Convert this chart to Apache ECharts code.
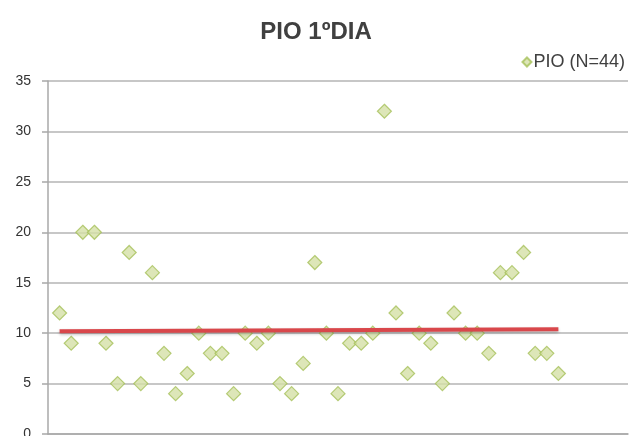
<!DOCTYPE html>
<html>
<head>
<meta charset="utf-8">
<script src="https://cdn.jsdelivr.net/npm/echarts@6/dist/echarts.min.js"></script>
<style>
  html, body { margin: 0; padding: 0; background: #ffffff; }
  #chart { width: 632px; height: 436px; }
</style>
</head>
<body>
<div id="chart"></div>
<script>
// Patient index (1..44) and intraocular pressure on day 1
const patients = [
  1, 2, 3, 4, 5, 6, 7, 8, 9, 10, 11, 12, 13, 14, 15, 16, 17, 18, 19, 20, 21, 22,
  23, 24, 25, 26, 27, 28, 29, 30, 31, 32, 33, 34, 35, 36, 37, 38, 39, 40, 41, 42, 43, 44
];
const pioValues = [
  12, 9, 20, 20, 9, 5, 18, 5, 16, 8, 4, 6, 10, 8, 8, 4, 10, 9, 10, 5, 4, 7,
  17, 10, 4, 9, 9, 10, 32, 12, 6, 10, 9, 5, 12, 10, 10, 8, 16, 16, 18, 8, 8, 6
];
// Trend line endpoints (first and last patient)
const trendX = [1, 44];
const trendY = [10.2, 10.38];
const yTicks = [0, 5, 10, 15, 20, 25, 30, 35];

const chart = echarts.init(document.getElementById('chart'), null, { renderer: 'canvas' });

chart.setOption({
  animation: false,
  backgroundColor: '#ffffff',
  title: {
    text: 'PIO 1ºDIA',
    left: 'center',
    top: 15,
    textStyle: { fontFamily: 'Liberation Sans, Arial, sans-serif', fontSize: 24, fontWeight: 'bold', color: '#404040' }
  },
  legend: {
    data: [{ name: 'PIO (N=44)', icon: 'diamond' }],
    right: 2,
    top: 48,
    itemWidth: 9,
    itemHeight: 9,
    itemGap: 4,
    textStyle: { fontFamily: 'Liberation Sans, Arial, sans-serif', fontSize: 18, color: '#404040', padding: [0, 0, 0, -3] }
  },
  grid: { left: 48, right: 4, top: 81, bottom: 2, containLabel: false, outerBoundsMode: 'none' },
  xAxis: {
    type: 'value',
    min: 0,
    max: 50,
    axisLine: { show: true, lineStyle: { color: '#a8a8a8', width: 1.5 } },
    axisTick: { show: false },
    axisLabel: { show: false },
    splitLine: { show: false }
  },
  yAxis: {
    type: 'value',
    min: yTicks[0],
    max: yTicks[yTicks.length - 1],
    interval: 5,
    axisLine: { show: true, lineStyle: { color: '#a8a8a8', width: 1.5 } },
    axisTick: { show: true, length: 6, lineStyle: { color: '#a8a8a8', width: 1.5 } },
    axisLabel: { fontFamily: 'Liberation Sans, Arial, sans-serif', fontSize: 14, color: '#333333', margin: 17 },
    splitLine: { show: true, lineStyle: { color: '#b4b4b4', width: 1.5 } }
  },
  series: [
    {
      name: 'PIO (N=44)',
      type: 'scatter',
      symbol: 'diamond',
      symbolSize: 14,
      itemStyle: { color: '#d5e0a6', borderColor: '#a6c05a', borderWidth: 1.2 },
      data: patients.map((p, i) => [p, pioValues[i]]),
      z: 3
    },
    {
      name: 'trend',
      type: 'line',
      symbol: 'none',
      data: trendX.map((x, i) => [x, trendY[i]]),
      lineStyle: {
        color: '#d9474b',
        width: 4,
        shadowColor: 'rgba(0,0,0,0.25)',
        shadowBlur: 3,
        shadowOffsetY: 1.5
      },
      z: 4
    }
  ]
});
</script>
</body>
</html>
